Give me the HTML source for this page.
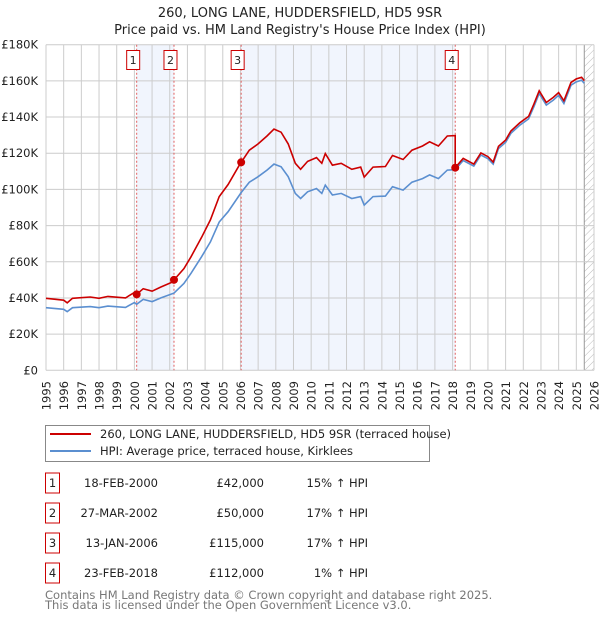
<!DOCTYPE html>
<html><head><meta charset="utf-8">
<style>
body{margin:0;background:#fff;font-family:"Liberation Sans","DejaVu Sans",sans-serif;}
svg text{font-family:"DejaVu Sans","Liberation Sans",sans-serif;}
</style></head>
<body>
<svg id="c" width="600" height="620" viewBox="0 0 600 620" xmlns="http://www.w3.org/2000/svg">
<text x="300" y="17" text-anchor="middle" font-size="13" fill="#222">260, LONG LANE, HUDDERSFIELD, HD5 9SR</text>
<text x="300" y="34" text-anchor="middle" font-size="13" fill="#222">Price paid vs. HM Land Registry's House Price Index (HPI)</text>
<defs><pattern id="h" width="5" height="5" patternUnits="userSpaceOnUse" patternTransform="rotate(45)"><line x1="0" y1="0" x2="0" y2="5" stroke="#bbb" stroke-width="1"/></pattern></defs>
<g id="grid"></g><g id="marks"></g>
<g>
<rect x="45.5" y="425.5" width="384" height="36" fill="#fff" stroke="#888"/>
<line x1="50" y1="434" x2="91" y2="434" stroke="#cc0000" stroke-width="2"/>
<text x="100" y="438" font-size="11.5" fill="#222">260, LONG LANE, HUDDERSFIELD, HD5 9SR (terraced house)</text>
<line x1="50" y1="451" x2="91" y2="451" stroke="#5b8fd0" stroke-width="2"/>
<text x="100" y="455" font-size="11.5" fill="#222">HPI: Average price, terraced house, Kirklees</text>
</g>
<g id="table"></g>
<text x="45" y="599" font-size="11.5" fill="#777">Contains HM Land Registry data © Crown copyright and database right 2025.</text>
<text x="45" y="609" font-size="11.5" fill="#777">This data is licensed under the Open Government Licence v3.0.</text>
</svg>
<script>
const hpiT=[1995,1996,1996.2,1996.5,1997.5,1998,1998.5,1999.5,2000,2000.13,2000.5,2001,2001.5,2002.24,2002.8,2003.2,2003.8,2004.3,2004.8,2005.3,2006.04,2006.5,2007,2007.5,2007.9,2008.3,2008.7,2009.1,2009.4,2009.8,2010.3,2010.6,2010.8,2011.2,2011.7,2012.3,2012.8,2013,2013.5,2014.2,2014.6,2015.2,2015.7,2016.3,2016.7,2017.2,2017.7,2018.15,2018.6,2019.2,2019.6,2020,2020.3,2020.6,2021,2021.3,2021.8,2022.3,2022.6,2022.9,2023.3,2023.7,2024,2024.3,2024.7,2025,2025.3,2025.45];
const hpiV=[34.6,33.7,32.4,34.6,35.2,34.6,35.5,34.8,37.4,36.5,39.2,38,40,42.7,48,53.6,62.8,71,82,87.7,98.3,104,107,110.7,114,112.5,107,97.8,95,98.7,100.5,97.8,102.4,96.9,97.8,95,96,91.3,96,96.3,101.5,99.6,104,106,108,106,110.7,110.9,116,112.9,119,117,114,122.6,126,131,135.5,139,145.7,153,146.6,149.4,152,147.5,157.6,159.5,160.4,158.6];
const saleT=[2000.13,2002.24,2006.04,2018.15];
const saleV=[42,50,115,112];
const saleLabels=["1","2","3","4"];
const saleDates=["18-FEB-2000","27-MAR-2002","13-JAN-2006","23-FEB-2018"];
const salePrices=["£42,000","£50,000","£115,000","£112,000"];
const saleHpi=["15% ↑ HPI","17% ↑ HPI","17% ↑ HPI","1% ↑ HPI"];
const yTicks=[0,20,40,60,80,100,120,140,160,180];
const yLabels=["£0","£20K","£40K","£60K","£80K","£100K","£120K","£140K","£160K","£180K"];
const xYears=[1995,1996,1997,1998,1999,2000,2001,2002,2003,2004,2005,2006,2007,2008,2009,2010,2011,2012,2013,2014,2015,2016,2017,2018,2019,2020,2021,2022,2023,2024,2025,2026];

const X0=46,X1=594,Y0=370.3,Y1=44.7;
const xs=t=>X0+(t-1995)*(X1-X0)/31;
const ys=v=>Y0-v*(Y0-Y1)/180;
const NS="http://www.w3.org/2000/svg";
function mk(tag,attrs,parent,txt){const e=document.createElementNS(NS,tag);for(const k in attrs)e.setAttribute(k,attrs[k]);if(txt!==undefined)e.textContent=txt;parent.appendChild(e);return e;}
const grid=document.getElementById('grid'),marks=document.getElementById('marks'),tbl=document.getElementById('table');
mk('rect',{x:X0,y:Y1,width:X1-X0,height:Y0-Y1,fill:'#fff'},grid);
for(const [a,b] of [[0,1],[2,3]]){
  const r=mk('rect',{x:xs(saleT[a]),y:Y1,width:xs(saleT[b])-xs(saleT[a]),height:Y0-Y1,fill:'#eef3fc',opacity:0.8},grid);
  
  
}
const hx=xs(2025.45);
const hr=mk('rect',{x:hx,y:Y1,width:X1-hx,height:Y0-Y1,fill:'url(#h)'},grid);


mk('line',{x1:hx,y1:Y1,x2:hx,y2:Y0,stroke:'#999','stroke-width':1},grid);
xYears.forEach((yr,i)=>{
  const x=xs(yr);
  mk('line',{x1:x,y1:Y1,x2:x,y2:Y0,stroke:'#ccc','stroke-width':1},grid);
  const t=mk('text',{x:0,y:0,'text-anchor':'end','font-size':11.5,fill:'#222',transform:'translate('+(x+4.5)+',381) rotate(-90)'},grid,String(yr));
  
  
});
yTicks.forEach((v,i)=>{
  const y=ys(v);
  mk('line',{x1:X0,y1:y,x2:X1,y2:y,stroke:'#ccc','stroke-width':1},grid);
  const t=mk('text',{x:38,y:y+4,'text-anchor':'end','font-size':11.5,fill:'#222'},grid,yLabels[i]);
  
  
});
function hpiAt(t){for(let i=0;i<hpiT.length-1;i++){if(t<=hpiT[i+1])return hpiV[i]+(hpiV[i+1]-hpiV[i])*(t-hpiT[i])/(hpiT[i+1]-hpiT[i]);}return hpiV[hpiV.length-1];}
saleT.forEach((t,i)=>{
  const x=xs(t);
  mk('line',{x1:x,y1:Y1,x2:x,y2:Y0,stroke:'#e06060','stroke-width':1,'stroke-dasharray':'2,2'},grid);
  const b=mk('rect',{x:x-10,y:50.5,width:13,height:19,fill:'#fff',stroke:'#cc0000'},grid);
  
  
  mk('text',{x:x-3.5,y:64,'text-anchor':'middle','font-size':11,fill:'#222'},grid,saleLabels[i]);
});
let d='';hpiT.forEach((t,i)=>{d+=(i?'L':'M')+xs(t).toFixed(1)+','+ys(hpiV[i]).toFixed(1);});
const hl=mk('path',{d:d,fill:'none',stroke:'#5b8fd0','stroke-width':1.6},marks);


function seg(t){let k=0;for(let i=0;i<saleT.length;i++)if(t>=saleT[i]-1e-6)k=i;return k;}
let pts=[];
hpiT.forEach((t,i)=>{pts.push([t,hpiV[i]]);});
saleT.forEach(t=>{pts.push([t-0.001,hpiAt(t-0.001)]);pts.push([t,hpiAt(t)]);});
pts.sort((a,b)=>a[0]-b[0]);
let d2='';pts.forEach((p,i)=>{const k=seg(p[0]);const v=saleV[k]*p[1]/hpiAt(saleT[k]);d2+=(i?'L':'M')+xs(p[0]).toFixed(1)+','+ys(v).toFixed(1);});
const pl=mk('path',{d:d2,fill:'none',stroke:'#cc0000','stroke-width':1.6},marks);


saleT.forEach((t,i)=>{
  const c=mk('circle',{cx:xs(t),cy:ys(saleV[i]),r:4,fill:'#cc0000'},marks);
  
  
});
saleT.forEach((t,i)=>{
  const y=473+i*30;
  const b=mk('rect',{x:45.5,y:y,width:14,height:20,fill:'#fff',stroke:'#cc0000'},tbl);
  
  
  mk('text',{x:52.5,y:y+14,'text-anchor':'middle','font-size':11.5,fill:'#222'},tbl,saleLabels[i]);
  const a=mk('text',{x:158,y:y+14,'text-anchor':'end','font-size':11.5,fill:'#222'},tbl,saleDates[i]);
  
  
  const p=mk('text',{x:264,y:y+14,'text-anchor':'end','font-size':11.5,fill:'#222'},tbl,salePrices[i]);
  
  
  const h=mk('text',{x:368,y:y+14,'text-anchor':'end','font-size':11.5,fill:'#222'},tbl,saleHpi[i]);
  
  
});
</script>
</body></html>
